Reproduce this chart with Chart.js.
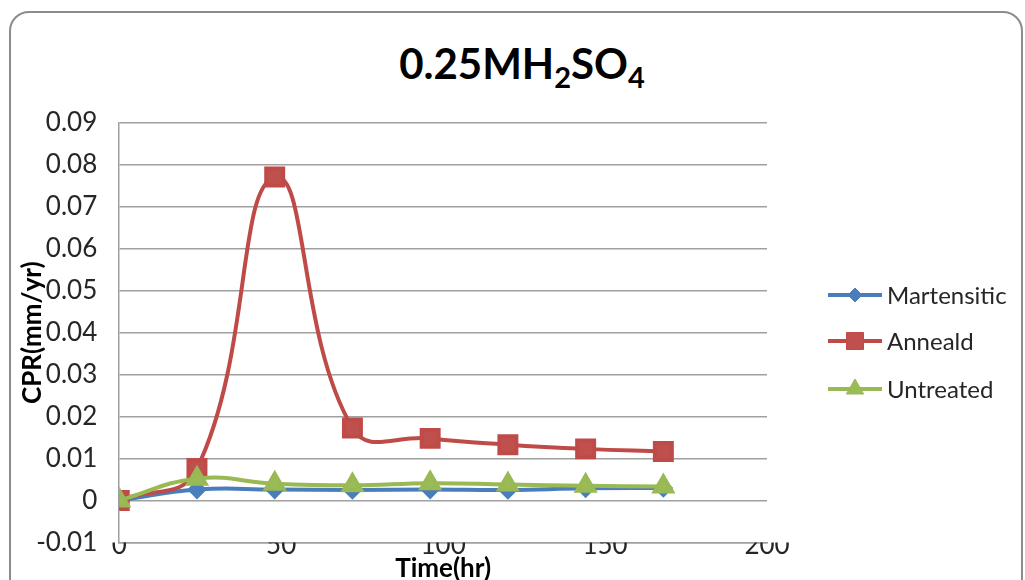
<!DOCTYPE html>
<html>
<head>
<meta charset="utf-8">
<script src="https://cdn.jsdelivr.net/npm/chart.js@4/dist/chart.umd.min.js"></script>
<style>
  html, body { margin: 0; padding: 0; background: #fff; overflow: hidden; }
  #wrap { position: relative; width: 1025px; height: 580px; }
  #frame { position: absolute; left: 9px; top: 11px; width: 1010px; height: 620px;
           border: 2px solid #8c8c8c; border-radius: 20px; }
  #title { position: absolute; left: 0; top: 38px; width: 1044px; text-align: center;
           font: bold 42px Lato, sans-serif; color: #000; line-height: 50px; }
  #title sub { font-size: 29px; vertical-align: -9px; line-height: 0; }
  canvas { position: absolute; left: 0; top: 0; }
</style>
</head>
<body>
<div id="wrap">
  <div id="frame"></div>
  <div id="title">0.25MH<sub>2</sub>SO<sub>4</sub></div>
  <canvas id="chart" width="1025" height="580"></canvas>
</div>
<script>
// data
var hours = [0, 24, 48, 72, 96, 120, 144, 168];
var martensitic = [0, 0.0026, 0.0026, 0.0025, 0.0026, 0.0025, 0.0029, 0.0030];
var anneald = [0, 0.0076, 0.0771, 0.0173, 0.0148, 0.0133, 0.0123, 0.0117];
var untreated = [0, 0.0052, 0.0040, 0.0036, 0.0041, 0.0038, 0.0035, 0.0033];
var seriesNames = ["Martensitic", "Anneald", "Untreated"];
var xTicks = [0, 50, 100, 150, 200];
var yTicks = [-0.01, 0, 0.01, 0.02, 0.03, 0.04, 0.05, 0.06, 0.07, 0.08, 0.09];

function toPoints(vals) {
    return hours.map(function (h, i) { return { x: h, y: vals[i] }; });
}

// legend with line + marker, like the spreadsheet one
var sideLegend = {
    id: "sideLegend",
    afterDraw: function (chart) {
        var ctx = chart.ctx;
        var ys = [295, 341, 389];
        chart.data.datasets.forEach(function (ds, i) {
            var y = ys[i];
            ctx.save();
            ctx.strokeStyle = ds.borderColor;
            ctx.lineWidth = 4;
            ctx.beginPath();
            ctx.moveTo(828, y);
            ctx.lineTo(882, y);
            ctx.stroke();
            ctx.fillStyle = ds.pointBackgroundColor;
            ctx.strokeStyle = ds.pointBorderColor;
            ctx.lineWidth = 1;
            Chart.helpers.drawPoint(ctx, { pointStyle: ds.pointStyle, radius: ds.pointRadius, rotation: 0, borderWidth: 1 }, 855, y);
            ctx.fillStyle = "#262626";
            ctx.font = "24px Lato, sans-serif";
            ctx.textBaseline = "middle";
            ctx.fillText(seriesNames[i], 887, y + 1);
            ctx.restore();
        });
    }
};

var ctx = document.getElementById("chart").getContext("2d");
var chart = new Chart(ctx, {
    type: "line",
    data: {
        datasets: [{
            label: seriesNames[0],
            data: toPoints(martensitic),
            borderColor: "#4a7ebb",
            borderWidth: 4,
            pointStyle: "rectRot",
            pointRadius: 7,
            pointBackgroundColor: "#4a7ebb",
            pointBorderColor: "#4a7ebb",
            tension: 0.45,
            order: 3
        }, {
            label: seriesNames[1],
            data: toPoints(anneald),
            borderColor: "#be4b48",
            borderWidth: 4,
            pointStyle: "rect",
            pointRadius: 12,
            pointBackgroundColor: "#c0504d",
            pointBorderColor: "#be4b48",
            tension: 0.45,
            order: 2
        }, {
            label: seriesNames[2],
            data: toPoints(untreated),
            borderColor: "#98b954",
            borderWidth: 4,
            pointStyle: "triangle",
            pointRadius: 10,
            pointBackgroundColor: "#9bbb59",
            pointBorderColor: "#98b954",
            tension: 0.45,
            order: 1
        }]
    },
    options: {
        responsive: false,
        animation: false,
        layout: { padding: { left: 17, right: 258, top: 123, bottom: 0 } },
        plugins: {
            legend: { display: false },
            tooltip: { enabled: false }
        },
        scales: {
            x: {
                type: "linear",
                min: 0,
                max: 200,
                afterBuildTicks: function (axis) { axis.ticks = xTicks.map(function (v) { return { value: v }; }); },
                grid: { display: false, drawTicks: false },
                border: { display: true, color: "#a0a0a0", width: 1.5 },
                ticks: {
                    padding: -12,
                    color: "#262626",
                    font: { family: "Lato", size: 26 },
                    maxRotation: 0
                },
                title: {
                    display: true,
                    text: "Time(hr)",
                    color: "#000",
                    font: { family: "Lato", size: 26, weight: "bold" },
                    padding: { top: 3, bottom: -16 }
                }
            },
            y: {
                min: -0.01,
                max: 0.09,
                afterBuildTicks: function (axis) { axis.ticks = yTicks.map(function (v) { return { value: v }; }); },
                grid: { color: "#a0a0a0", lineWidth: 1.5, drawTicks: false },
                border: { display: true, color: "#a0a0a0", width: 1.5 },
                ticks: {
                    padding: 22,
                    color: "#262626",
                    font: { family: "Lato", size: 26 },
                    callback: function (v) { return String(Number(v.toFixed(2))); }
                },
                title: {
                    display: true,
                    text: "CPR(mm/yr)",
                    color: "#000",
                    font: { family: "Lato", size: 26, weight: "bold" },
                    padding: { top: 0, bottom: -34 }
                }
            }
        }
    },
    plugins: [sideLegend]
});
</script>
</body>
</html>
